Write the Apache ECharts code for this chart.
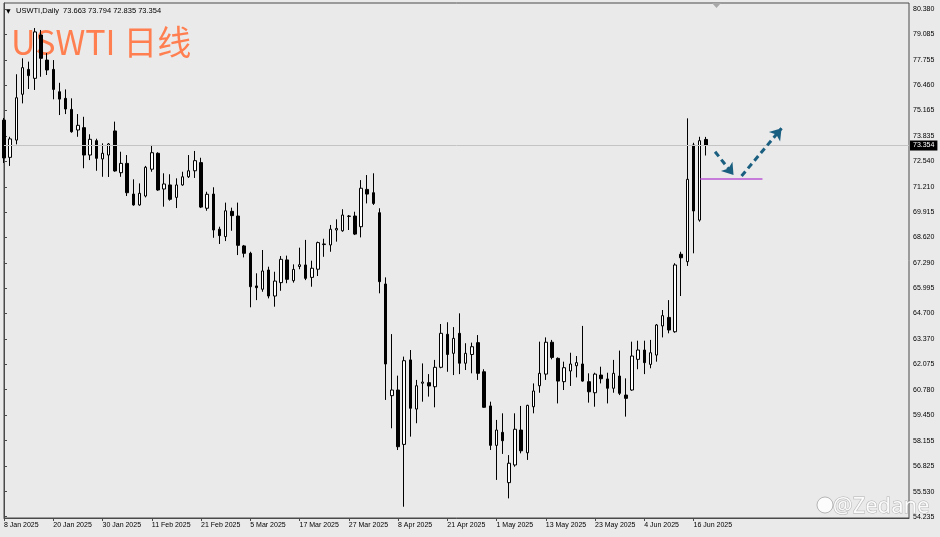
<!DOCTYPE html>
<html><head><meta charset="utf-8">
<script src="https://cdn.jsdelivr.net/npm/echarts@6/dist/echarts.min.js"></script>
<style>html,body{margin:0;padding:0;background:#eaeaea}#c{width:940px;height:537px}</style>
</head><body><div id="c"></div><script>
const dates = [
'8 Jan 2025','9 Jan 2025','10 Jan 2025','13 Jan 2025','14 Jan 2025','15 Jan 2025','16 Jan 2025','17 Jan 2025','20 Jan 2025','21 Jan 2025','22 Jan 2025','23 Jan 2025','24 Jan 2025','27 Jan 2025','28 Jan 2025','29 Jan 2025','30 Jan 2025','31 Jan 2025',
'3 Feb 2025','4 Feb 2025','5 Feb 2025','6 Feb 2025','7 Feb 2025','10 Feb 2025','11 Feb 2025','12 Feb 2025','13 Feb 2025','14 Feb 2025','17 Feb 2025','18 Feb 2025','19 Feb 2025','20 Feb 2025','21 Feb 2025','24 Feb 2025','25 Feb 2025','26 Feb 2025','27 Feb 2025','28 Feb 2025',
'3 Mar 2025','4 Mar 2025','5 Mar 2025','6 Mar 2025','7 Mar 2025','10 Mar 2025','11 Mar 2025','12 Mar 2025','13 Mar 2025','14 Mar 2025','17 Mar 2025','18 Mar 2025','19 Mar 2025','20 Mar 2025','21 Mar 2025','24 Mar 2025','25 Mar 2025','26 Mar 2025','27 Mar 2025','28 Mar 2025','31 Mar 2025',
'1 Apr 2025','2 Apr 2025','3 Apr 2025','4 Apr 2025','7 Apr 2025','8 Apr 2025','9 Apr 2025','10 Apr 2025','11 Apr 2025','14 Apr 2025','15 Apr 2025','16 Apr 2025','17 Apr 2025','21 Apr 2025','22 Apr 2025','23 Apr 2025','24 Apr 2025','25 Apr 2025','28 Apr 2025','29 Apr 2025','30 Apr 2025',
'1 May 2025','2 May 2025','5 May 2025','6 May 2025','7 May 2025','8 May 2025','9 May 2025','12 May 2025','13 May 2025','14 May 2025','15 May 2025','16 May 2025','19 May 2025','20 May 2025','21 May 2025','22 May 2025','23 May 2025','26 May 2025','27 May 2025','28 May 2025','29 May 2025','30 May 2025',
'2 Jun 2025','3 Jun 2025','4 Jun 2025','5 Jun 2025','6 Jun 2025','9 Jun 2025','10 Jun 2025','11 Jun 2025','12 Jun 2025','13 Jun 2025','16 Jun 2025','17 Jun 2025','18 Jun 2025'
];
const opens = [74.66,72.74,73.63,75.99,77.27,76.81,79.04,77.75,77.27,76.12,75.78,75.21,74.15,74.27,72.86,73.60,72.66,72.86,
74.10,71.95,72.43,70.85,70.29,70.75,72.13,72.95,71.11,71.32,70.68,71.32,71.74,72.05,72.47,70.12,70.85,69.04,68.66,69.96,
69.72,68.18,67.80,66.12,65.95,66.94,65.60,66.29,67.46,66.39,67.12,67.20,66.56,66.98,68.25,68.23,69.00,68.96,69.70,69.72,69.17,
71.09,70.92,69.89,66.22,60.47,60.76,57.96,62.31,59.78,61.11,61.14,60.93,61.93,63.63,62.65,63.68,62.14,62.59,63.20,61.70,59.94,
57.91,58.58,55.99,56.90,58.70,57.53,59.90,60.98,61.58,63.22,62.39,61.19,61.74,62.01,62.10,61.19,60.62,61.53,61.33,60.85,61.48,60.50,
60.76,62.34,62.82,62.08,62.56,64.06,64.50,63.76,67.75,67.37,73.38,69.51,73.663];
const highs = [74.77,73.80,77.02,77.84,77.67,79.40,79.30,78.11,77.75,76.58,76.24,75.78,74.97,74.83,73.93,73.70,73.46,73.48,
74.58,73.03,72.86,71.61,71.40,72.30,73.38,73.00,71.92,71.87,71.66,72.00,72.86,73.07,72.72,70.97,71.20,69.17,70.41,70.15,
70.41,68.23,67.88,66.77,67.97,67.11,66.85,67.66,67.68,67.23,68.09,68.49,67.42,68.40,68.55,69.26,69.55,70.07,69.77,69.94,71.57,
71.83,71.92,70.12,66.56,63.64,61.50,62.48,62.82,61.28,62.13,61.58,62.31,64.16,64.25,64.00,64.71,63.17,63.20,63.59,61.83,60.16,
59.22,59.56,57.41,59.56,59.94,60.00,61.10,63.25,63.47,63.34,62.44,62.22,62.68,62.51,64.06,61.62,61.65,61.96,61.65,62.31,62.79,61.36,
63.25,63.30,63.30,63.34,64.16,64.88,65.39,67.29,67.88,74.75,73.49,73.80,73.794];
const lows = [72.45,72.30,73.41,75.52,76.26,76.21,76.89,76.98,75.73,74.92,74.97,74.01,73.80,72.18,72.60,72.05,71.74,71.73,
72.00,71.74,70.75,70.25,70.25,70.68,72.00,71.02,70.20,70.51,70.13,71.28,71.68,71.68,70.13,69.99,68.60,68.28,68.43,68.96,
67.71,67.59,65.02,65.39,65.82,65.48,65.05,65.87,66.26,66.29,66.98,66.42,66.08,66.63,67.62,67.88,68.40,68.91,69.00,68.74,68.62,
70.37,70.29,65.74,60.25,58.79,57.67,54.75,58.36,59.05,60.16,60.42,59.87,61.88,61.70,61.53,61.58,61.79,61.62,61.28,59.85,57.67,
56.13,57.47,55.18,56.81,57.50,57.16,59.56,60.62,61.28,62.34,60.07,60.76,60.97,61.41,61.19,60.11,59.90,61.10,60.07,60.62,60.50,59.39,
60.72,61.83,61.58,61.88,62.22,63.47,63.68,63.71,65.60,67.15,67.80,69.43,72.835];
const closes = [72.71,73.69,75.81,77.36,76.95,79.20,77.84,77.24,76.24,75.74,75.23,74.06,74.39,72.86,73.67,72.69,72.95,73.43,
72.04,72.43,70.92,70.29,70.89,72.23,72.98,71.06,71.37,70.58,71.32,71.74,72.05,72.57,70.18,70.84,69.00,68.71,69.99,69.74,
68.21,67.80,66.08,66.03,66.89,65.60,66.37,67.49,66.46,66.97,67.21,66.51,67.03,68.35,68.28,69.04,69.08,69.77,69.72,68.79,71.15,
70.85,70.37,66.34,62.10,60.76,57.84,62.27,59.82,60.98,61.17,60.97,61.93,63.68,62.59,63.42,62.14,62.65,62.99,61.62,59.87,57.91,
58.70,58.15,56.99,58.74,57.63,59.97,60.71,61.62,63.22,62.44,61.22,61.91,62.10,62.17,61.22,60.67,61.58,61.34,60.85,61.62,60.59,60.33,
62.51,62.82,62.17,62.68,64.11,64.59,63.85,67.20,67.57,71.61,69.98,73.60,73.354];
const yTicks = [80.380,79.085,77.755,76.460,75.165,73.835,72.540,71.210,69.915,68.620,67.290,65.995,64.700,63.370,62.075,60.780,59.450,58.155,56.825,55.530,54.235];
const symbolName = 'USWTI,Daily';
const titleText = 'USWTI 日线';
const watermark = '@Zedane';
// annotation positions in (bar slot, price)
const supportLine = [[113.1,71.63],[123.2,71.63]];
const arrowDown = [[115.5,73.03],[118.5,71.83]];
const arrowUp = [[119.8,71.78],[126.3,74.24]];
const TOTAL_SLOTS = 148;

const last = dates.length - 1;
const lastClose = closes[last];
const categories = dates.concat(Array.from({length: TOTAL_SLOTS - dates.length}, (_, k) => 'slot' + k));
const candles = dates.map((d, i) => [opens[i], closes[i], lows[i], highs[i]]);
const isTick = (idx) => idx % 8 === 0 && idx < dates.length;
const FONT = 'Liberation Sans';

const chart = echarts.init(document.getElementById('c'), null, {renderer: 'canvas'});
chart.setOption({
  animation: false,
  backgroundColor: '#eaeaea',
  grid: {left: 4, right: 31, top: 3, bottom: 19, show: true, borderColor: '#4a4a4a', borderWidth: 1, backgroundColor: 'transparent'},
  xAxis: [{
    type: 'category', data: categories, boundaryGap: false,
    axisLine: {show: true, lineStyle: {color: '#4a4a4a', width: 1}},
    axisTick: {show: true, interval: isTick, length: 3, lineStyle: {color: '#4a4a4a'}},
    axisLabel: {show: true, interval: isTick, align: 'left', fontSize: 7, fontFamily: FONT, color: '#000', margin: 4},
    splitLine: {show: false}
  }, {
    type: 'value', min: 0, max: TOTAL_SLOTS - 1, show: false, gridIndex: 0
  }],
  yAxis: {
    type: 'value', position: 'right', min: 54.170, max: 80.689, scale: true,
    axisLine: {show: true, lineStyle: {color: '#4a4a4a', width: 1}},
    axisTick: {show: true, customValues: yTicks, length: 3, lineStyle: {color: '#4a4a4a'}},
    axisLabel: {show: true, customValues: yTicks, formatter: v => v.toFixed(3), fontSize: 7, fontFamily: FONT, color: '#000', margin: 4},
    splitLine: {show: false}
  },
  series: [{
    type: 'candlestick', xAxisIndex: 0, yAxisIndex: 0, data: candles, barWidth: 3,
    itemStyle: {color: '#ffffff', color0: '#000000', borderColor: '#000000', borderColor0: '#000000', borderWidth: 1},
    markLine: {
      silent: true, symbol: ['none', 'none'], animation: false,
      lineStyle: {color: '#c4c4c4', width: 1, type: 'solid'},
      label: {show: true, position: 'end', formatter: lastClose.toFixed(3), color: '#fff', backgroundColor: '#000', padding: [2, 3, 1, 3], fontSize: 7, fontFamily: FONT, distance: 1},
      data: [{yAxis: lastClose}]
    },
    z: 3
  }, {
    type: 'line', xAxisIndex: 1, yAxisIndex: 0, data: supportLine, symbol: 'none',
    lineStyle: {color: '#BA55D3', width: 1.5}, z: 4,
    markLine: {
      silent: true, animation: false, symbol: ['none', 'arrow'], symbolSize: 11,
      lineStyle: {color: '#1b5f80', width: 3, type: [6, 4]},
      label: {show: false},
      data: [[{coord: arrowDown[0]}, {coord: arrowDown[1]}], [{coord: arrowUp[0]}, {coord: arrowUp[1]}]]
    }
  }],
  graphic: [
    {type: 'text', left: 6, top: 8, style: {text: '▼', fontSize: 6, fill: '#000', fontFamily: 'DejaVu Sans'}},
    {type: 'text', left: 16, top: 7, style: {text: symbolName + '  ' + [opens[last], highs[last], lows[last], closes[last]].map(v => v.toFixed(3)).join(' '), fontSize: 7.5, fill: '#000', fontFamily: FONT}},
    {type: 'text', left: 11, top: 25, style: {text: titleText, fontSize: 34, fill: '#FF7F50', fontFamily: 'Noto Sans CJK SC'}},
    {type: 'polygon', shape: {points: [[712, 3], [721, 3], [716.5, 8]]}, style: {fill: '#a8a8a8'}},
    {type: 'circle', shape: {cx: 825, cy: 505, r: 8}, style: {fill: 'rgba(255,255,255,0.85)', stroke: 'rgba(120,120,120,0.5)', lineWidth: 1}},
    {type: 'text', right: 10, bottom: 19, style: {text: watermark, fontSize: 22, fill: 'rgba(255,255,255,0.9)', stroke: 'rgba(120,120,120,0.5)', lineWidth: 1, fontFamily: 'Noto Sans'}}
  ]
});
</script></body></html>
